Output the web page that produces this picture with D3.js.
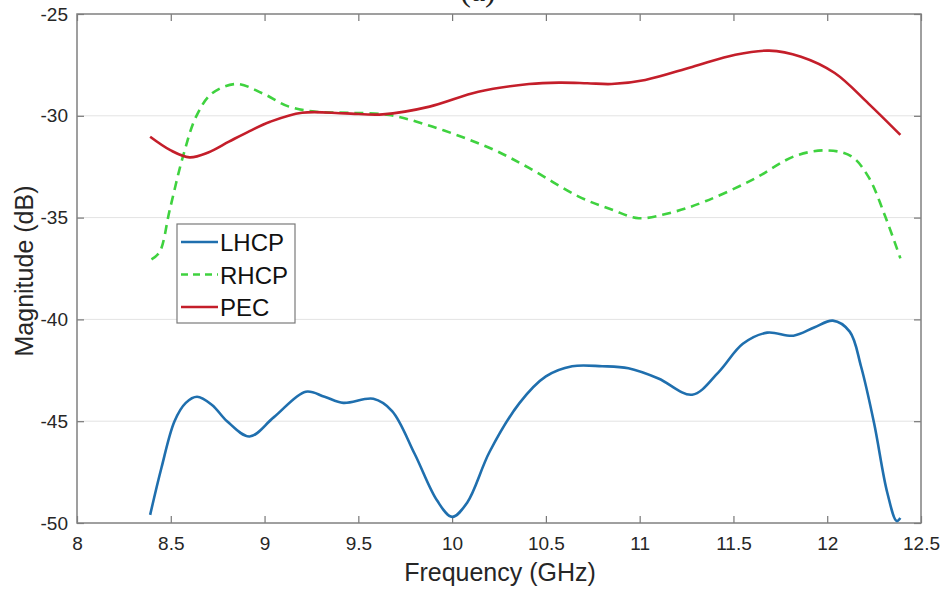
<!DOCTYPE html>
<html>
<head>
<meta charset="utf-8">
<script src="https://cdn.jsdelivr.net/npm/d3@7"></script>
<style>
  body { margin: 0; background: #fff; }
  svg { font-family: "Liberation Sans", Arial, sans-serif; }
</style>
</head>
<body>
<svg width="945" height="592"></svg>
<script>
// values
let lhcpFreq = [8.39, 8.45, 8.52, 8.58, 8.64, 8.72, 8.8, 8.92, 9.05, 9.22, 9.32, 9.42, 9.58, 9.68, 9.8, 9.92, 10.0, 10.08, 10.2, 10.36, 10.5, 10.64, 10.8, 10.94, 11.1, 11.28, 11.42, 11.55, 11.68, 11.82, 11.93, 12.03, 12.12, 12.18, 12.25, 12.32, 12.37, 12.39];
let lhcpVals = [-49.6, -47.3, -45.0, -44.1, -43.8, -44.2, -45.0, -45.75, -44.8, -43.55, -43.8, -44.1, -43.9, -44.5, -46.6, -48.9, -49.7, -49.0, -46.5, -44.1, -42.8, -42.3, -42.3, -42.4, -42.9, -43.7, -42.6, -41.2, -40.65, -40.8, -40.4, -40.06, -40.6, -42.3, -45.1, -48.5, -49.9, -49.75];

let rhcpFreq = [8.397, 8.44, 8.495, 8.565, 8.637, 8.72, 8.85, 8.99, 9.13, 9.275, 9.45, 9.665, 9.85, 10.05, 10.23, 10.41, 10.675, 10.85, 10.995, 11.17, 11.35, 11.6, 11.83, 12.005, 12.13, 12.22, 12.31, 12.39];
let rhcpVals = [-37.05, -36.7, -34.6, -32.0, -30.0, -28.9, -28.44, -28.9, -29.55, -29.8, -29.85, -29.96, -30.4, -31.03, -31.7, -32.56, -33.97, -34.6, -35.03, -34.75, -34.2, -33.15, -31.97, -31.7, -32.0, -33.0, -34.96, -37.0];

let pecFreq = [8.39, 8.5, 8.6, 8.7, 8.81, 8.92, 9.03, 9.2, 9.43, 9.63, 9.88, 10.14, 10.41, 10.57, 10.72, 10.85, 11.03, 11.28, 11.51, 11.69, 11.86, 12.04, 12.22, 12.39];
let pecVals = [-31.03, -31.7, -32.04, -31.8, -31.27, -30.75, -30.29, -29.85, -29.88, -29.93, -29.55, -28.82, -28.44, -28.37, -28.4, -28.44, -28.24, -27.6, -27.0, -26.8, -27.1, -27.9, -29.4, -30.94];

let xTicks = [8, 8.5, 9, 9.5, 10, 10.5, 11, 11.5, 12, 12.5];
let yTicks = [-25, -30, -35, -40, -45, -50];

let series = [
  { name: 'LHCP', freq: lhcpFreq, vals: lhcpVals, color: '#1f6fae', dash: null },
  { name: 'RHCP', freq: rhcpFreq, vals: rhcpVals, color: '#3fd23f', dash: '9,6' },
  { name: 'PEC', freq: pecFreq, vals: pecVals, color: '#c41e2a', dash: null }
];

let plotLeft = 77, plotRight = 921, plotTop = 14, plotBottom = 523;

let svg = d3.select('svg');

let x = d3.scaleLinear().domain([8, 12.5]).range([plotLeft, plotRight]);
let y = d3.scaleLinear().domain([-50, -25]).range([plotBottom, plotTop]);

// title, cut by the top edge
svg.append('text')
    .attr('x', 478).attr('y', 1)
    .attr('text-anchor', 'middle')
    .style('font-family', '"Liberation Serif", "Times New Roman", serif')
    .style('font-size', '32px')
    .attr('fill', '#222')
    .text('(a)');

// horizontal grid
svg.append('g')
    .selectAll('line')
    .data(yTicks.slice(1, -1))
    .enter()
    .append('line')
    .attr('x1', plotLeft).attr('x2', plotRight)
    .attr('y1', d => y(d)).attr('y2', d => y(d))
    .attr('stroke', '#e3e3e3')
    .attr('stroke-width', 1);

// axes, ticks pointing inward
function styleAxis(g) {
    g.select('.domain').remove();
    g.selectAll('.tick line').attr('stroke', '#777').attr('stroke-width', 1.2);
    g.selectAll('.tick text').attr('fill', '#262626').style('font-size', '19px');
}

svg.append('g')
    .attr('transform', 'translate(0,' + plotBottom + ')')
    .call(d3.axisBottom(x).tickValues(xTicks).tickFormat(d => String(d)).tickSizeInner(-7).tickPadding(14))
    .call(styleAxis);

svg.append('g')
    .attr('transform', 'translate(0,' + plotTop + ')')
    .call(d3.axisTop(x).tickValues(xTicks).tickFormat('').tickSizeInner(-7))
    .call(styleAxis);

svg.append('g')
    .attr('transform', 'translate(' + plotLeft + ',0)')
    .call(d3.axisLeft(y).tickValues(yTicks).tickFormat(d => String(d)).tickSizeInner(-7).tickPadding(9))
    .call(styleAxis);

svg.append('g')
    .attr('transform', 'translate(' + plotRight + ',0)')
    .call(d3.axisRight(y).tickValues(yTicks).tickFormat('').tickSizeInner(-7))
    .call(styleAxis);

// box
svg.append('rect')
    .attr('x', plotLeft).attr('y', plotTop)
    .attr('width', plotRight - plotLeft).attr('height', plotBottom - plotTop)
    .attr('fill', 'none')
    .attr('stroke', '#808080')
    .attr('stroke-width', 1.5);

// lines
let line = d3.line()
    .x(d => x(d[0]))
    .y(d => y(d[1]))
    .curve(d3.curveCatmullRom.alpha(0.5));

series.forEach(function(s) {
    let pts = s.freq.map((f, i) => [f, s.vals[i]]);
    svg.append('path')
        .datum(pts)
        .attr('d', line)
        .attr('fill', 'none')
        .attr('stroke', s.color)
        .attr('stroke-width', 2.6)
        .attr('stroke-dasharray', s.dash);
});

// legend
let legend = svg.append('g');
legend.append('rect')
    .attr('x', 177).attr('y', 224)
    .attr('width', 118).attr('height', 99)
    .attr('fill', '#fff')
    .attr('stroke', '#7a7a7a')
    .attr('stroke-width', 1.2);

series.forEach(function(s, i) {
    let ly = 242 + i * 32.5;
    legend.append('line')
        .attr('x1', 181).attr('x2', 218)
        .attr('y1', ly).attr('y2', ly)
        .attr('stroke', s.color)
        .attr('stroke-width', 2.6)
        .attr('stroke-dasharray', s.dash ? '7,5' : null);
    legend.append('text')
        .attr('x', 220).attr('y', ly + 9)
        .style('font-size', '24px')
        .attr('fill', '#111')
        .text(s.name);
});

// axis labels
svg.append('text')
    .attr('x', 500).attr('y', 581)
    .attr('text-anchor', 'middle')
    .style('font-size', '25px')
    .attr('fill', '#262626')
    .text('Frequency (GHz)');

svg.append('text')
    .attr('transform', 'translate(33,271) rotate(-90)')
    .attr('text-anchor', 'middle')
    .style('font-size', '25px')
    .attr('fill', '#262626')
    .text('Magnitude (dB)');
</script>
</body>
</html>
